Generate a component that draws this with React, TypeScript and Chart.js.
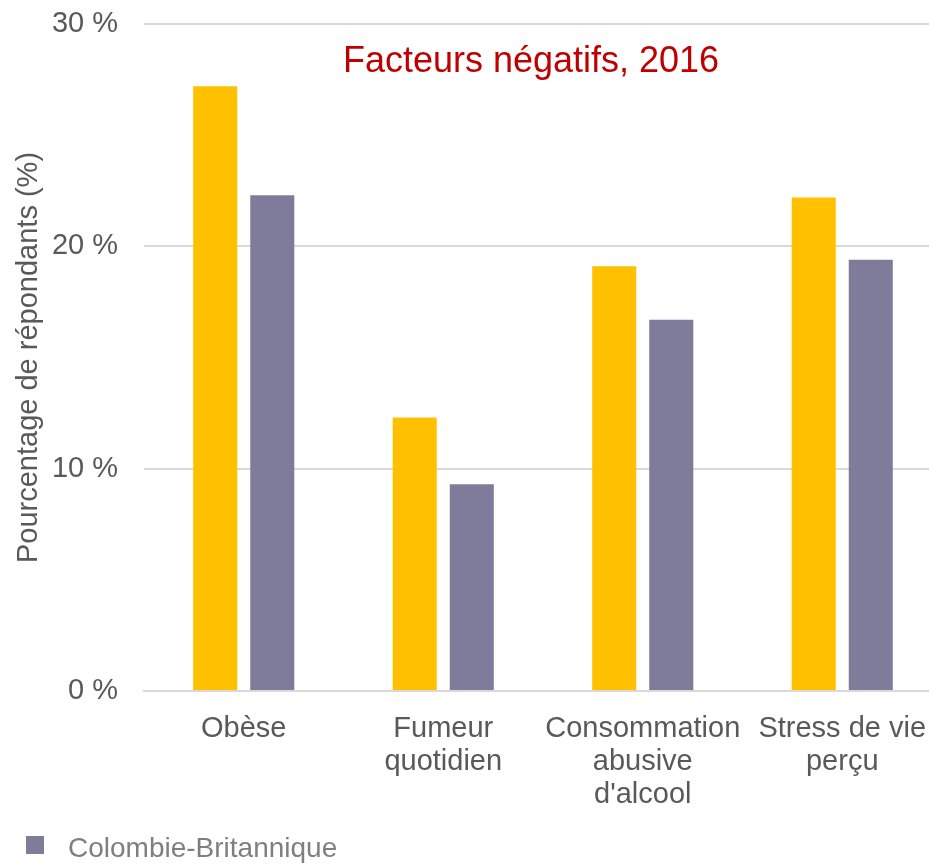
import React, { useEffect, useRef } from "react";
import { Chart, registerables } from "chart.js";

Chart.register(...registerables);

const categories: string[][] = [
  ["Obèse"],
  ["Fumeur", "quotidien"],
  ["Consommation", "abusive", "d'alcool"],
  ["Stress de vie", "perçu"],
];
const seriesRegion: number[] = [27.2, 12.3, 19.1, 22.2];
const seriesBC: number[] = [22.3, 9.3, 16.7, 19.4];
const yTicks: number[] = [0, 10, 20, 30];
const regionLabel = "Région";
const bcLabel = "Colombie-Britannique";
const chartTitle = "Facteurs négatifs, 2016";
const yTitle = "Pourcentage de répondants (%)";

const FONT = "'Liberation Sans', Arial, sans-serif";
const YELLOW = "#FFC000";
const GRAY = "#7F7B9B";

const overlayPlugin = {
  id: "overlay",
  afterDraw(chart: any) {
    const { ctx, chartArea } = chart;
    ctx.save();
    // title inside plot area
    ctx.font = `36px ${FONT}`;
    ctx.fillStyle = "#C00000";
    ctx.textAlign = "center";
    ctx.textBaseline = "alphabetic";
    ctx.fillText(chartTitle, chartArea.left + 387, chartArea.top + 48);
    // legend (only the BC series)
    const ds = chart.data.datasets[1];
    ctx.fillStyle = ds.backgroundColor;
    ctx.fillRect(26, 836, 18, 18);
    ctx.font = `28px ${FONT}`;
    ctx.fillStyle = "#7F7F7F";
    ctx.textAlign = "left";
    ctx.textBaseline = "middle";
    ctx.fillText(ds.label, 68, 849);
    ctx.restore();
  },
};

export default function App() {
  const ref = useRef<HTMLCanvasElement | null>(null);
  useEffect(() => {
    if (!ref.current) return;
    const chart = new Chart(ref.current, {
      type: "bar",
      data: {
        labels: categories,
        datasets: [
          {
            label: regionLabel,
            data: seriesRegion,
            backgroundColor: YELLOW,
            categoryPercentage: 0.572,
            barPercentage: 0.772,
          },
          {
            label: bcLabel,
            data: seriesBC,
            backgroundColor: GRAY,
            categoryPercentage: 0.572,
            barPercentage: 0.772,
          },
        ],
      },
      options: {
        animation: false,
        responsive: false,
        maintainAspectRatio: false,
        layout: { padding: { top: 24, right: 0, bottom: 0, left: 0 } },
        plugins: {
          legend: { display: false },
          title: { display: false },
          tooltip: { enabled: false },
        },
        scales: {
          x: {
            grid: { display: false, drawTicks: false },
            border: { display: true, color: "#D9D9D9", width: 2 },
            ticks: {
              color: "#595959",
              font: { family: FONT, size: 29, lineHeight: 1.14 },
              padding: 21,
              maxRotation: 0,
              autoSkip: false,
            },
            afterFit: (s: any) => {
              s.height = 175;
              s.paddingTop = 0;
              s.paddingBottom = 0;
              s.paddingLeft = 0;
              s.paddingRight = 0;
            },
          },
          y: {
            min: 0,
            max: 30,
            afterBuildTicks: (s: any) => {
              s.ticks = yTicks.map((v) => ({ value: v }));
            },
            grid: { color: "#D9D9D9", lineWidth: 2, drawTicks: false },
            border: { display: false },
            ticks: {
              color: "#595959",
              font: { family: FONT, size: 29 },
              padding: 26,
              callback: (v: any) => `${v} %`,
            },
            title: {
              display: true,
              text: yTitle,
              color: "#595959",
              font: { family: FONT, size: 29 },
              padding: { top: 12, bottom: 0 },
            },
            afterFit: (s: any) => {
              s.width = 144;
              s.paddingTop = 0;
              s.paddingBottom = 0;
            },
          },
        },
      },
      plugins: [overlayPlugin],
    });
    return () => chart.destroy();
  }, []);
  return (
    <div
      style={{
        position: "absolute",
        left: 0,
        top: 0,
        width: 929,
        height: 866,
        overflow: "hidden",
        background: "#fff",
      }}
    >
      <canvas ref={ref} width={942} height={866} style={{ display: "block" }} />
    </div>
  );
}
